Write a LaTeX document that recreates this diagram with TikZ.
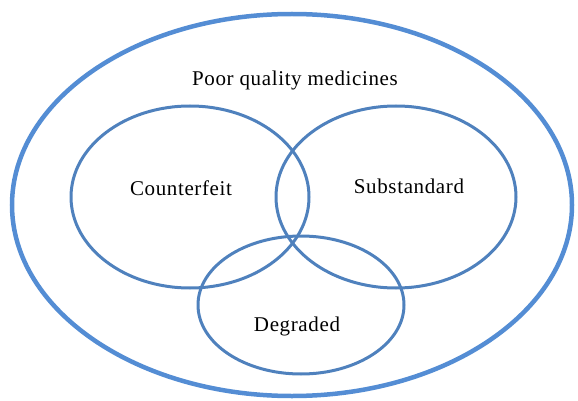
\documentclass[tikz,border=0pt]{standalone}
\usepackage{fontspec}
\setmainfont{Liberation Serif}
\usepackage{xcolor}
\usepackage{tikz}

\definecolor{ringblue}{RGB}{79,129,189}
\definecolor{outerblue}{RGB}{84,141,212}

\begin{document}
\begin{tikzpicture}[x=1pt,y=-1pt,
    ring/.style={line width=3pt,ringblue},
    label/.style={font=\fontsize{21}{25}\selectfont\addfontfeatures{LetterSpace=3}}]
    % Canvas
    \useasboundingbox (0,0) rectangle (578,401);

    % Outer set
    \draw[line width=4.5pt,outerblue] (292,205) ellipse (280 and 191);
    \node[label] (poor) at (295,80) {Poor quality medicines};

    % Inner sets
    \draw[ring] (190,197) ellipse (119 and 91);
    \draw[ring] (396,197) ellipse (120 and 91);
    \draw[ring] (301,305) ellipse (103 and 69);

    % Labels
    \node[label] (counterfeit) at (181,188) {Counterfeit};
    \node[label] (substandard) at (409,186) {Substandard};
    \node[label] (degraded) at (297,326) {Degraded};
\end{tikzpicture}
\end{document}
